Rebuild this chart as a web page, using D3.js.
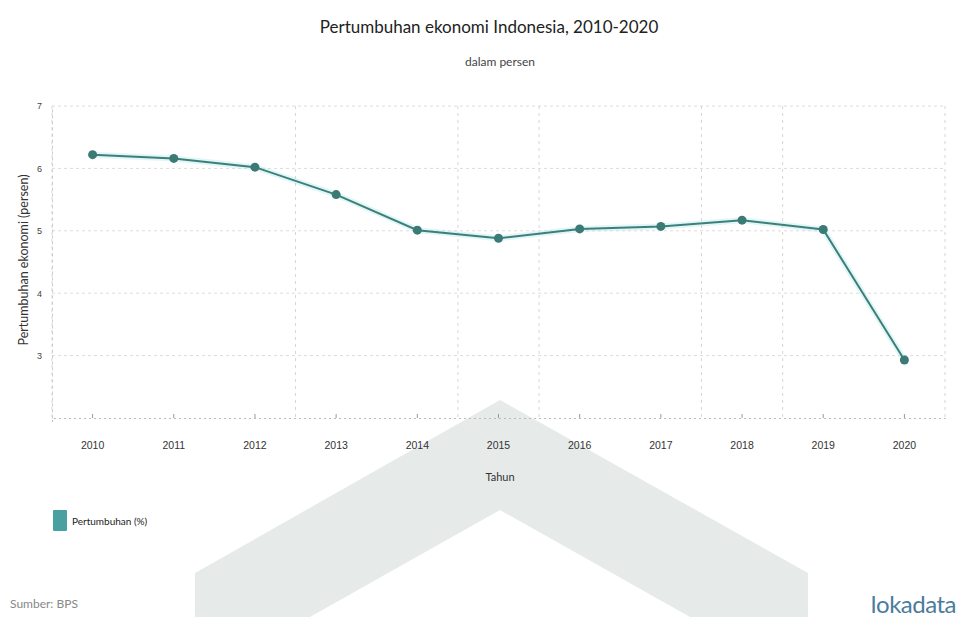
<!DOCTYPE html>
<html>
<head>
<meta charset="utf-8">
<script src="https://cdn.jsdelivr.net/npm/d3@7"></script>
<style>
  html, body { margin: 0; padding: 0; background: #fff; }
  svg { display: block; font-family: Lato, "Open Sans", sans-serif; }
</style>
</head>
<body>
<svg id="chart" width="959" height="617"></svg>
<script>
// Annual growth series
const years = ["2010", "2011", "2012", "2013", "2014", "2015", "2016", "2017", "2018", "2019", "2020"];
const growth = [6.22, 6.16, 6.02, 5.58, 5.01, 4.88, 5.03, 5.07, 5.17, 5.02, 2.93];
const yTicks = [3, 4, 5, 6, 7];
// Band boundaries (index of the year to the right) that carry a vertical grid line
const gridAfter = [0, 3, 5, 6, 8, 9, 11];

const titleText = "Pertumbuhan ekonomi Indonesia, 2010-2020";
const subtitleText = "dalam persen";
const yTitle = "Pertumbuhan ekonomi (persen)";
const xTitle = "Tahun";
const legendText = "Pertumbuhan (%)";
const sourceText = "Sumber: BPS";
const brandText = "lokadata";

const svg = d3.select("#chart");
const W = 959, H = 617;
const m = { left: 52, right: 14, top: 106, bottom: 418 };

// Background mark: a large chevron
const chevron = [[195, 617], [195, 573], [500, 400], [808, 573], [808, 617], [690, 617], [500, 510], [310, 617]];
svg.append("path")
  .attr("d", d3.line()(chevron) + "Z")
  .attr("fill", "#e6ebe9");

const x = d3.scaleBand().domain(years).range([m.left, W - m.right]).paddingInner(0).paddingOuter(0);
const y = d3.scaleLinear().domain([2, 7]).range([m.bottom, m.top]);
const cx = d => x(d) + x.bandwidth() / 2;

const g = svg.append("g");

// Horizontal grid
g.selectAll("line.hg").data(yTicks).join("line")
  .attr("x1", m.left).attr("x2", W - m.right)
  .attr("y1", d => y(d)).attr("y2", d => y(d))
  .attr("stroke", "#dcdcdc").attr("stroke-width", 1)
  .attr("stroke-dasharray", "3,3");

// Vertical grid at selected band edges
g.selectAll("line.vg").data(gridAfter).join("line")
  .attr("x1", i => i < years.length ? x(years[i]) : x(years[years.length - 1]) + x.bandwidth())
  .attr("x2", i => i < years.length ? x(years[i]) : x(years[years.length - 1]) + x.bandwidth())
  .attr("y1", m.top).attr("y2", m.bottom)
  .attr("stroke", "#d6d6d6").attr("stroke-width", 1)
  .attr("stroke-dasharray", "3,4");

// Bottom axis
const xAxis = d3.axisBottom(x).tickSize(4).tickPadding(20);
const xa = svg.append("g").attr("transform", `translate(0,${m.bottom})`).call(xAxis);
xa.select(".domain").attr("stroke", "#bbb").attr("stroke-dasharray", "2,3");
xa.selectAll(".tick line").attr("stroke", "#999").attr("transform", "translate(0,-4)");
xa.selectAll(".tick text").attr("fill", "#333").attr("font-size", 10.5);

// Left axis
const yAxis = d3.axisLeft(y).tickValues(yTicks).tickSize(0).tickPadding(10).tickFormat(d3.format("d"));
const ya = svg.append("g").attr("transform", `translate(${m.left},0)`).call(yAxis);
ya.select(".domain").attr("stroke", "#ccc").attr("stroke-dasharray", "3,3");
ya.selectAll(".tick text").attr("fill", "#444").attr("font-size", 9);

// Line and markers
svg.append("path")
  .datum(growth)
  .attr("fill", "none")
  .attr("stroke", "#a8e6e4").attr("stroke-width", 6).attr("stroke-opacity", 0.35)
  .attr("d", d3.line().x((d, i) => cx(years[i])).y(d => y(d)));
svg.append("path")
  .datum(growth)
  .attr("fill", "none")
  .attr("stroke", "#3d7f7a").attr("stroke-width", 2)
  .attr("d", d3.line().x((d, i) => cx(years[i])).y(d => y(d)));
svg.selectAll("circle.pt").data(growth).join("circle")
  .attr("cx", (d, i) => cx(years[i])).attr("cy", d => y(d))
  .attr("r", 4.5).attr("fill", "#3b7a75");

// Titles
svg.append("text").attr("x", 489).attr("y", 33).attr("text-anchor", "middle")
  .attr("font-size", 17).attr("fill", "#222").text(titleText);
svg.append("text").attr("x", 500).attr("y", 66).attr("text-anchor", "middle")
  .attr("font-size", 12).attr("fill", "#444").text(subtitleText);
svg.append("text").attr("x", 500).attr("y", 481).attr("text-anchor", "middle")
  .attr("font-size", 11).attr("fill", "#333").text(xTitle);
svg.append("text")
  .attr("transform", `translate(28,260) rotate(-90)`)
  .attr("text-anchor", "middle").attr("font-size", 12.5).attr("fill", "#333").text(yTitle);

// Legend
svg.append("rect").attr("x", 53).attr("y", 510).attr("width", 14).attr("height", 21)
  .attr("rx", 1).attr("fill", "#4a9fa0");
svg.append("text").attr("x", 72).attr("y", 525).attr("font-size", 10).attr("fill", "#222").text(legendText);

// Footer
svg.append("text").attr("x", 10).attr("y", 608).attr("font-size", 12).attr("fill", "#888").text(sourceText);
svg.append("text").attr("x", 956).attr("y", 613).attr("text-anchor", "end")
  .attr("font-size", 24).attr("fill", "#4a7c9c").attr("letter-spacing", -0.5).text(brandText);
</script>
</body>
</html>
